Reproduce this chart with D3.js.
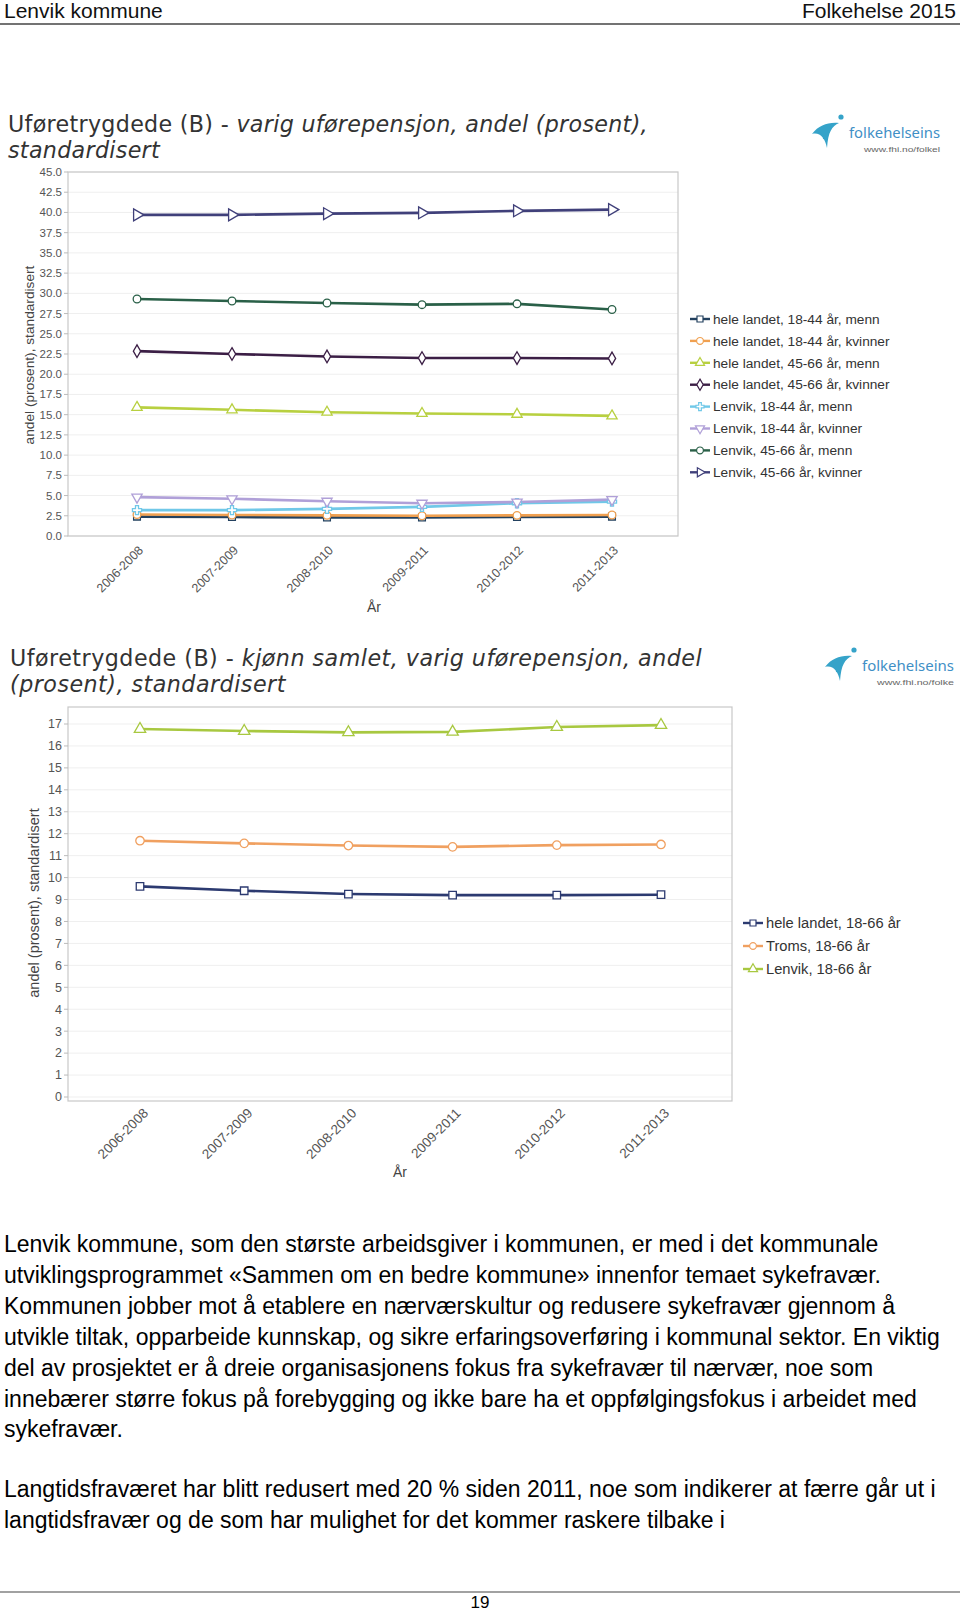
<!DOCTYPE html>
<html><head><meta charset="utf-8">
<script src="https://cdn.jsdelivr.net/npm/d3@7"></script>
<style>
body{margin:0;background:#fff;}
svg{display:block;}
</style></head><body>
<svg id="page" width="960" height="1613"></svg>
<script>
// ---------- DATA ----------
const categories = ["2006-2008","2007-2009","2008-2010","2009-2011","2010-2012","2011-2013"];

// Chart 1: varig uførepensjon by age/sex
const yTicks1 = [0,2.5,5,7.5,10,12.5,15,17.5,20,22.5,25,27.5,30,32.5,35,37.5,40,42.5,45];
const heleLandet1844Menn    = [2.40, 2.35, 2.30, 2.30, 2.35, 2.40];
const heleLandet1844Kvinner = [2.65, 2.60, 2.55, 2.50, 2.55, 2.60];
const heleLandet4566Menn    = [15.90, 15.60, 15.30, 15.15, 15.05, 14.85];
const heleLandet4566Kvinner = [22.85, 22.50, 22.20, 22.00, 22.00, 21.95];
const lenvik1844Menn        = [3.20, 3.20, 3.35, 3.60, 4.05, 4.25];
const lenvik1844Kvinner     = [4.80, 4.60, 4.30, 4.05, 4.20, 4.50];
const lenvik4566Menn        = [29.30, 29.05, 28.80, 28.60, 28.70, 28.00];
const lenvik4566Kvinner     = [39.70, 39.70, 39.85, 39.95, 40.20, 40.35];
const seriesNames1 = ["hele landet, 18-44 år, menn","hele landet, 18-44 år, kvinner","hele landet, 45-66 år, menn","hele landet, 45-66 år, kvinner","Lenvik, 18-44 år, menn","Lenvik, 18-44 år, kvinner","Lenvik, 45-66 år, menn","Lenvik, 45-66 år, kvinner"];

// Chart 2: kjønn samlet
const yTicks2 = [0,1,2,3,4,5,6,7,8,9,10,11,12,13,14,15,16,17];
const heleLandet1866 = [9.60, 9.40, 9.25, 9.20, 9.20, 9.22];
const troms1866      = [11.68, 11.56, 11.46, 11.40, 11.48, 11.51];
const lenvik1866     = [16.77, 16.68, 16.62, 16.64, 16.86, 16.95];
const seriesNames2 = ["hele landet, 18-66 år","Troms, 18-66 år","Lenvik, 18-66 år"];

const bodyPara1 = [
 "Lenvik kommune, som den største arbeidsgiver i kommunen, er med i det kommunale",
 "utviklingsprogrammet «Sammen om en bedre kommune» innenfor temaet sykefravær.",
 "Kommunen jobber mot å etablere en nærværskultur og redusere sykefravær gjennom å",
 "utvikle tiltak, opparbeide kunnskap, og sikre erfaringsoverføring i kommunal sektor. En viktig",
 "del av prosjektet er å dreie organisasjonens fokus fra sykefravær til nærvær, noe som",
 "innebærer større fokus på forebygging og ikke bare ha et oppfølgingsfokus i arbeidet med",
 "sykefravær."
];
const bodyPara2 = [
 "Langtidsfraværet har blitt redusert med 20 % siden 2011, noe som indikerer at færre går ut i",
 "langtidsfravær og de som har mulighet for det kommer raskere tilbake i"
];

// ---------- DRAWING ----------
const svg = d3.select("#page");
svg.append("rect").attr("width",960).attr("height",1613).attr("fill","#fff");
const SANS = "'Liberation Sans', Arial, sans-serif";
const TITLEFONT = "'DejaVu Sans', 'Liberation Sans', sans-serif";

// Header
svg.append("text").attr("x",4).attr("y",18).attr("font-family",SANS).attr("font-size",21).attr("fill","#111").text("Lenvik kommune");
svg.append("text").attr("x",956).attr("y",18).attr("text-anchor","end").attr("font-family",SANS).attr("font-size",21).attr("fill","#111").text("Folkehelse 2015");
svg.append("line").attr("x1",0).attr("x2",960).attr("y1",24).attr("y2",24).attr("stroke","#444").attr("stroke-width",1.5);

// Title: pieces placed one after another with a word gap; font size capped, remaining width made up with letter spacing
function measure(str, fs, italic, ls){
  const t = svg.append("text").attr("font-family",TITLEFONT).attr("font-size",fs).attr("letter-spacing",ls||0)
    .attr("font-style",italic?"italic":"normal").text(str);
  const w = t.node().getBBox().width; t.remove(); return w;
}
function title(lines, x, y0, dy, targetW1){
  const gap22 = measure("a a",22,false) - measure("aa",22,false);
  let natW = 0;
  lines[0].forEach((p,k)=>{ natW += measure(p.t,22,p.i) + (k>0?gap22:0); });
  const fs = Math.min(22*targetW1/natW, 22.2);
  const nChars = lines[0].reduce((a,p)=>a+p.t.length,0);
  const ls = Math.max(0,(targetW1 - natW*fs/22)/nChars);
  const gap = gap22*fs/22 + ls;
  lines.forEach((ln,i)=>{
    let cx = x;
    ln.forEach((p,k)=>{
      if(k>0) cx += gap;
      const t = svg.append("text").attr("x",cx).attr("y",y0+i*dy)
        .attr("font-family",TITLEFONT).attr("font-size",fs).attr("letter-spacing",ls).attr("fill","#333")
        .attr("font-style",p.i?"italic":"normal").text(p.t);
      cx += t.node().getBBox().width;
    });
  });
}

function logo(x,y,textW,url){
  const g = svg.append("g").attr("transform",`translate(${x},${y})`);
  g.append("path").attr("d","M0,16 C7,7 16,4 27,5 C20,8 16,14 15,30 C13,20 8,14 0,16 Z").attr("fill","#35a3c9");
  g.append("circle").attr("cx",29).attr("cy",-1).attr("r",2.6).attr("fill","#35a3c9");
  g.append("circle").attr("cx",12).attr("cy",20).attr("r",1.2).attr("fill","#35a3c9");
  g.append("text").attr("x",37).attr("y",20).attr("font-family","'Noto Sans', sans-serif").attr("font-size",15).attr("fill","#3f8fc6")
    .attr("textLength",textW).attr("lengthAdjust","spacingAndGlyphs").text("folkehelseins");
  g.append("text").attr("x",52).attr("y",34).attr("font-family",SANS).attr("font-size",8).attr("fill","#666")
    .attr("textLength",textW-15).attr("lengthAdjust","spacingAndGlyphs").text(url);
}

function chart(cfg){
  const g = svg.append("g");
  const x = d3.scalePoint().domain(categories).range(cfg.xRange);
  const y = d3.scaleLinear().domain([0, cfg.yTop]).range([cfg.y0, cfg.y1]);
  // grid
  g.selectAll(".grid").data(cfg.ticks).join("line")
    .attr("x1",cfg.box[0]).attr("x2",cfg.box[1]).attr("y1",d=>y(d)).attr("y2",d=>y(d))
    .attr("stroke","#efefef").attr("stroke-width",1);
  // box
  g.append("rect").attr("x",cfg.box[0]).attr("y",cfg.box[2]).attr("width",cfg.box[1]-cfg.box[0]).attr("height",cfg.box[3]-cfg.box[2])
    .attr("fill","none").attr("stroke","#c8c8c8").attr("stroke-width",1.2);
  // y ticks
  g.selectAll(".tk").data(cfg.ticks).join("line")
    .attr("x1",cfg.box[0]-4).attr("x2",cfg.box[0]).attr("y1",d=>y(d)).attr("y2",d=>y(d)).attr("stroke","#bbb");
  g.selectAll(".tl").data(cfg.ticks).join("text")
    .attr("x",cfg.box[0]-6).attr("y",d=>y(d)).attr("dy","0.35em").attr("text-anchor","end")
    .attr("font-family",SANS).attr("font-size",cfg.tickFs).attr("fill","#555")
    .text(d=>cfg.fmt(d));
  // x labels
  g.selectAll(".xl").data(categories).join("text")
    .attr("transform",d=>`translate(${x(d)+cfg.xlOff[0]},${cfg.box[3]+cfg.xlOff[1]}) rotate(-45)`)
    .attr("text-anchor","end").attr("font-family",SANS).attr("font-size",cfg.xFs).attr("fill","#555").text(d=>d);
  // axis titles
  g.append("text").attr("transform",`translate(${cfg.yTitle[0]},${cfg.yTitle[1]}) rotate(-90)`).attr("text-anchor","middle")
    .attr("dy","0.35em").attr("font-family",SANS).attr("font-size",cfg.yTitleFs).attr("fill","#444").text("andel (prosent), standardisert");
  g.append("text").attr("x",cfg.xTitle[0]).attr("y",cfg.xTitle[1]).attr("dy","0.35em").attr("text-anchor","middle")
    .attr("font-family",SANS).attr("font-size",14).attr("fill","#444").text("År");
  // series
  const line = d3.line().x((d,i)=>x(categories[i])).y(d=>y(d));
  cfg.series.forEach(s=>{
    g.append("path").attr("d",line(s.values)).attr("fill","none").attr("stroke",s.color).attr("stroke-width",2.6);
  });
  cfg.series.forEach(s=>{
    g.selectAll(null).data(s.values).join("path")
      .attr("transform",(d,i)=>`translate(${x(categories[i])},${y(d)}) rotate(${s.rot||0})`)
      .attr("d",d3.symbol().type(s.sym).size(s.size||48))
      .attr("fill","#fff").attr("stroke",s.color).attr("stroke-width",1.3);
  });
  // legend
  const lg = g.append("g");
  cfg.series.forEach((s,i)=>{
    const yy = cfg.legend[1] + i*cfg.legend[2];
    lg.append("line").attr("x1",cfg.legend[0]).attr("x2",cfg.legend[0]+20).attr("y1",yy).attr("y2",yy).attr("stroke",s.color).attr("stroke-width",2.4);
    lg.append("path").attr("transform",`translate(${cfg.legend[0]+10},${yy}) rotate(${s.rot||0})`)
      .attr("d",d3.symbol().type(s.sym).size(36)).attr("fill","#fff").attr("stroke",s.color).attr("stroke-width",1.2);
    lg.append("text").attr("x",cfg.legend[0]+23).attr("y",yy).attr("dy","0.35em")
      .attr("font-family",SANS).attr("font-size",cfg.legFs).attr("fill","#333").text(s.name);
  });
}

// Chart 1
title([[{t:"Uføretrygdede (B) -"},{t:"varig uførepensjon, andel (prosent),",i:1}],[{t:"standardisert",i:1}]], 8, 132, 26, 640);
logo(812,118,91,"www.fhi.no/folkel");
const colors1 = ["#23415f","#f0a050","#b8d040","#3b1e45","#70c8e8","#b0a0d8","#2a6048","#40407a"];
const syms1 = [d3.symbolSquare,d3.symbolCircle,d3.symbolTriangle,d3.symbolDiamond,d3.symbolCross,d3.symbolTriangle,d3.symbolCircle,d3.symbolTriangle];
const rots1 = [0,0,0,0,0,180,0,90];
const vals1 = [heleLandet1844Menn,heleLandet1844Kvinner,heleLandet4566Menn,heleLandet4566Kvinner,lenvik1844Menn,lenvik1844Kvinner,lenvik4566Menn,lenvik4566Kvinner];
chart({
  xRange:[137,612], yTop:45, y0:536, y1:172, ticks:yTicks1, fmt:d3.format(".1f"),
  box:[68,678,172,536], tickFs:11.5, xFs:12.5, xlOff:[7,15],
  yTitle:[29,355], yTitleFs:13.7, xTitle:[374,607],
  legend:[690,319,21.9], legFs:13.7,
  series: seriesNames1.map((n,i)=>({name:n,values:vals1[i],color:colors1[i],sym:syms1[i],rot:rots1[i],size:i===7?60:46}))
});

// Chart 2
title([[{t:"Uføretrygdede (B) -"},{t:"kjønn samlet, varig uførepensjon, andel",i:1}],[{t:"(prosent), standardisert",i:1}]], 10, 666, 26, 692);
logo(825,651,92,"www.fhi.no/folke");
const colors2 = ["#2c3a70","#f0a060","#a8c840"];
const syms2 = [d3.symbolSquare,d3.symbolCircle,d3.symbolTriangle];
const vals2 = [heleLandet1866,troms1866,lenvik1866];
chart({
  xRange:[140,661], yTop:17, y0:1097, y1:724, ticks:yTicks2, fmt:d3.format("d"),
  box:[68,732,707,1101], tickFs:12.5, xFs:13.5, xlOff:[9,13],
  yTitle:[34,903], yTitleFs:14.5, xTitle:[400,1172],
  legend:[743,923,23], legFs:14.7,
  series: seriesNames2.map((n,i)=>({name:n,values:vals2[i],color:colors2[i],sym:syms2[i],size:56}))
});

// Body text
const body = svg.append("g").attr("font-family",SANS).attr("font-size",23).attr("fill","#000");
bodyPara1.forEach((t,i)=>body.append("text").attr("x",4).attr("y",1252+i*30.9).text(t));
bodyPara2.forEach((t,i)=>body.append("text").attr("x",4).attr("y",1497+i*30.9).text(t));

// Footer
svg.append("line").attr("x1",0).attr("x2",960).attr("y1",1592).attr("y2",1592).attr("stroke","#444").attr("stroke-width",1.2);
svg.append("text").attr("x",480).attr("y",1608).attr("text-anchor","middle").attr("font-family",SANS).attr("font-size",17).text("19");
</script>
</body></html>
